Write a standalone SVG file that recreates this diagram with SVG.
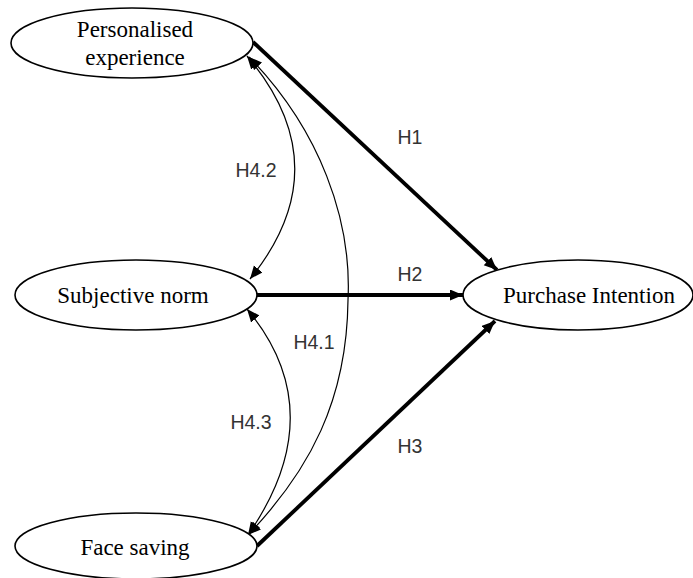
<svg xmlns="http://www.w3.org/2000/svg" width="693" height="578" viewBox="0 0 693 578">
<style>
.node ellipse{fill:#fff;stroke:#000;stroke-width:1.6}
.node text{font-family:"Liberation Serif","Times New Roman",serif;font-size:23px;fill:#000;text-anchor:middle}
.thick{fill:none;stroke:#000;stroke-width:3.8}
.thin{fill:none;stroke:#000;stroke-width:1.2}
.lbl{font-family:"Liberation Sans",Arial,sans-serif;font-size:19.5px;fill:#333;text-anchor:middle}
</style>
<defs>
<marker id="ah" markerUnits="userSpaceOnUse" markerWidth="14" markerHeight="12" refX="13" refY="5.5" orient="auto-start-reverse" viewBox="0 0 14 12">
<path d="M0,0 L13,5.5 L0,11 z" fill="#000"/>
</marker>
</defs>
<rect width="693" height="578" fill="#fff"/>
<g id="connectors">
<path class="thick" d="M253,42 L497,270" marker-end="url(#ah)"/>
<path class="thick" d="M257,295 L463,295" marker-end="url(#ah)"/>
<path class="thick" d="M257,546 L495,321" marker-end="url(#ah)"/>
<path class="thin" d="M247,56 Q341,167 250,279" marker-start="url(#ah)" marker-end="url(#ah)"/>
<path class="thin" d="M249,57 C320,130 352,220 348,300 C347,400 310,470 248,535" marker-start="url(#ah)" marker-end="url(#ah)"/>
<path class="thin" d="M247,309 Q333,412 248,535" marker-start="url(#ah)" marker-end="url(#ah)"/>
<text class="lbl" x="410" y="144">H1</text>
<text class="lbl" x="410" y="281">H2</text>
<text class="lbl" x="410" y="453">H3</text>
<text class="lbl" x="256" y="177">H4.2</text>
<text class="lbl" x="314" y="349">H4.1</text>
<text class="lbl" x="251" y="429">H4.3</text>
</g>
<g id="n_pe" class="node">
<ellipse cx="132" cy="43" rx="121" ry="35"/>
<text x="135" y="37">Personalised</text>
<text x="135" y="65">experience</text>
</g>
<g id="n_sn" class="node">
<ellipse cx="136" cy="295" rx="121" ry="35"/>
<text x="133" y="303">Subjective norm</text>
</g>
<g id="n_fs" class="node">
<ellipse cx="136" cy="546" rx="121" ry="33"/>
<text x="135" y="555">Face saving</text>
</g>
<g id="n_pi" class="node">
<ellipse cx="578" cy="295" rx="115" ry="35"/>
<text x="589" y="303">Purchase Intention</text>
</g>
</svg>
